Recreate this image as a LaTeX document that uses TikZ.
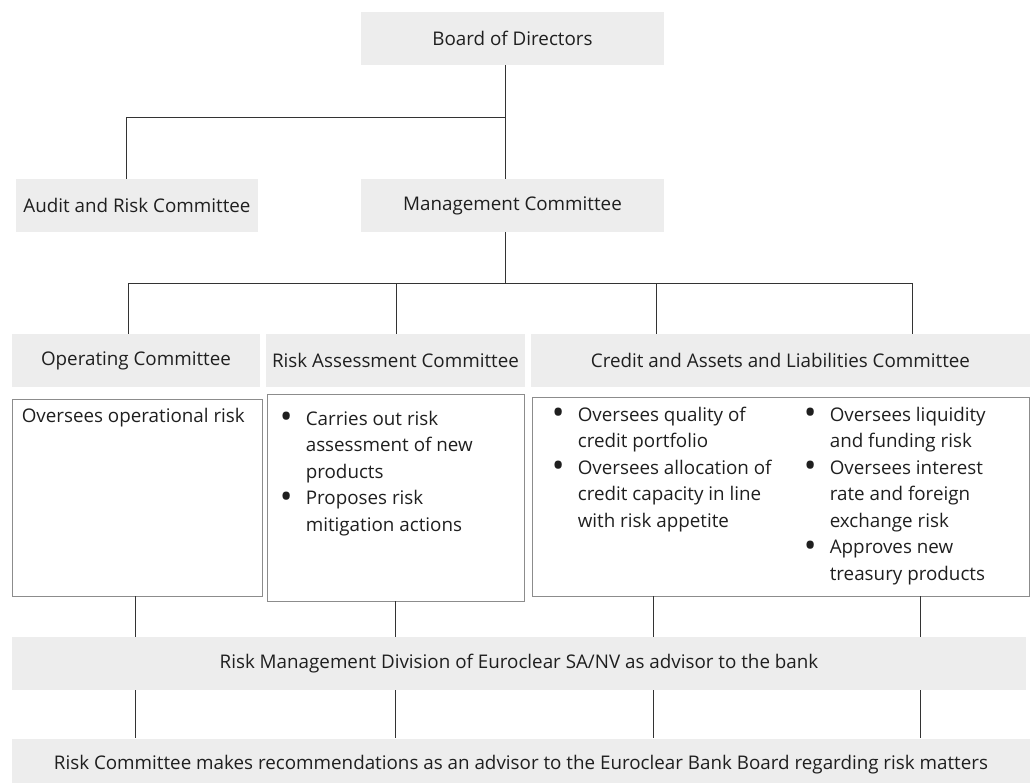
\documentclass[tikz,border=0pt]{standalone}
\usepackage{fontspec}
\setmainfont{Open Sans}
\usetikzlibrary{positioning}

% bullet and hanging indent for the remit lists
\newcommand{\bul}{\makebox[26pt][l]{\raisebox{-0.2em}{\scalebox{1.8}{\textbullet}}}}
\newcommand{\hang}{\hspace*{26pt}}

\begin{document}
\begin{tikzpicture}[
    x=1pt, y=-1pt,
    every node/.style={font=\fontsize{18.8}{26.5}\selectfont, text=black!88},
    head/.style={fill=black!7, inner sep=0pt, minimum height=53pt},
    panel/.style={draw=black!45, line width=0.8pt, inner sep=0pt},
    notes/.style={anchor=north west, align=left, inner sep=0pt},
    link/.style={draw=black!80, line width=0.8pt},
]

\useasboundingbox (0,0) rectangle (1030,782);

% === Board and its committees ===
\node[head, minimum width=303pt] (board) at (512.5,38.5) {Board of Directors};
\node[head, minimum width=242pt] (audit) at (137,205.5) {Audit and Risk Committee};
\node[head, minimum width=303pt] (mgmt) at (512.5,205.5) {Management Committee};

% === Committees under management ===
\node[head, minimum width=248pt] (opc) at (136,360.5) {Operating Committee};
\node[head, minimum width=259pt] (rac) at (395.5,360.5) {Risk Assessment Committee};
\node[head, minimum width=499pt] (cal) at (780.5,360.5) {Credit and Assets and Liabilities Committee};

% === Remits ===
\node[panel, minimum width=250pt, minimum height=197pt] (opcbox) at (137,497.5) {};
\node[panel, minimum width=257pt, minimum height=207pt] (rabox) at (395.5,497.5) {};
\node[panel, minimum width=497pt, minimum height=199pt] (calbox) at (780.5,496.5) {};

\node[notes] (opctext) at ([shift={(10,9)}]opcbox.north west) {Oversees operational risk};
\node[notes] (ratext) at ([shift={(13,17)}]rabox.north west)
    {\bul Carries out risk\\ \hang assessment of new\\ \hang products\\
     \bul Proposes risk\\ \hang mitigation actions};
\node[notes] (calleft) at ([shift={(20,10)}]calbox.north west)
    {\bul Oversees quality of\\ \hang credit portfolio\\
     \bul Oversees allocation of\\ \hang credit capacity in line\\ \hang with risk appetite};
\node[notes] (calright) at ([shift={(272,10)}]calbox.north west)
    {\bul Oversees liquidity\\ \hang and funding risk\\
     \bul Oversees interest\\ \hang rate and foreign\\ \hang exchange risk\\
     \bul Approves new\\ \hang treasury products};

% === Advisory layers ===
\node[head, minimum width=1014pt] (rmd) at (519,663.5)
    {Risk Management Division of Euroclear SA/NV as advisor to the bank};
\node[head, minimum width=1018pt] (rcb) at (521,765)
    {Risk Committee makes recommendations as an advisor to the Euroclear Bank Board regarding risk matters};

% === Connectors ===
\coordinate (spine) at (505,0);
\coordinate (audtap) at (126,117);
\coordinate (bus) at (0,283);
\coordinate (c1) at (128,0);
\coordinate (c2) at (396,0);
\coordinate (c3) at (656,0);
\coordinate (c4) at (912,0);
\coordinate (d1) at (135,0);
\coordinate (d2) at (395,0);
\coordinate (d3) at (653,0);
\coordinate (d4) at (920,0);

\draw[link] (board.south -| spine) -- (mgmt.north -| spine);
\draw[link] (audtap -| spine) -- (audtap) -- (audit.north -| audtap);
\draw[link] (mgmt.south -| spine) -- (bus -| spine);
\draw[link] (bus -| c1) -- (bus -| c4);
\foreach \c/\n in {c1/opc, c2/rac, c3/cal, c4/cal}
    \draw[link] (bus -| \c) -- (\n.north -| \c);
\foreach \d/\n in {d1/opcbox, d2/rabox, d3/calbox, d4/calbox} {
    \draw[link] (\n.south -| \d) -- (rmd.north -| \d);
    \draw[link] (rmd.south -| \d) -- (rcb.north -| \d);
}

\end{tikzpicture}
\end{document}
